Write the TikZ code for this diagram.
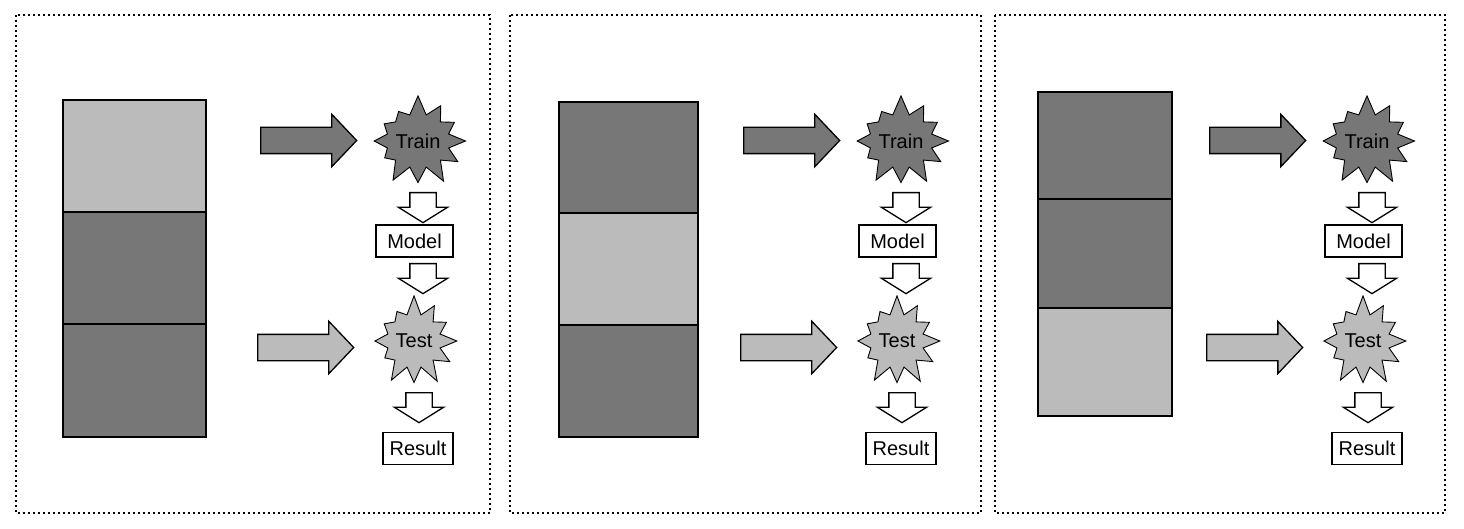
\documentclass[tikz,border=0pt]{standalone}
\usepackage{fontspec}
\setmainfont{Liberation Sans}
\usetikzlibrary{positioning,shapes.symbols,shapes.arrows}
\definecolor{dark}{HTML}{777777}
\definecolor{light}{HTML}{BBBBBB}
\begin{document}
\begin{tikzpicture}[x=1pt, y=-1pt,
  font=\fontsize{20pt}{23pt}\selectfont,
  panel/.style = {draw, dash pattern=on 2pt off 3pt, line width=1.6pt},
  block/.style = {draw, line width=2pt},
  burst/.style = {draw, starburst, starburst points=12, starburst point height=20pt,
                  random starburst=7, inner sep=0pt, minimum width=94pt, minimum height=94pt, line width=0.9pt},
  feed/.style = {draw, single arrow, anchor=tail, single arrow head extend=13pt, single arrow tip angle=93,
                 minimum height=96pt, inner xsep=0pt, inner ysep=12.5pt, line width=1.3pt},
  hollow/.style = {draw, fill=white, single arrow, anchor=tail, shape border rotate=270, single arrow head extend=11.5pt,
                   single arrow tip angle=116, minimum height=30pt, inner xsep=12.5pt, inner ysep=0pt, line width=1.3pt},
  box/.style = {draw, fill=white, line width=1.5pt, inner sep=0pt, minimum height=32pt}]
\useasboundingbox (0,0) rectangle (1464,529);

% panel 1
\draw[panel] (16,15) rectangle (490,513);
\draw[block, fill=light] (63,100) rectangle (206,212);
\draw[block, fill=dark] (63,212) rectangle (206,324);
\draw[block, fill=dark] (63,324) rectangle (206,437);
\node[feed, fill=dark] (tr1) at (260,140.5) {};
\node[feed, fill=light] (te1) at (257,347.5) {};
\node[burst, fill=dark] (train1) at (418,141) {Train};
\node[hollow] (tm1) at (423,192) {};
\node[box, minimum width=77pt] (model1) at (414.5,241) {Model};
\node[hollow] (ms1) at (423,263) {};
\node[burst, fill=light] (test1) at (414,341) {Test};
\node[hollow] (sr1) at (419,392) {};
\node[box, minimum width=70pt] (result1) at (418,448.5) {Result};

% panel 2
\draw[panel] (510,15) rectangle (981,513);
\draw[block, fill=dark] (559,102) rectangle (698,213);
\draw[block, fill=light] (559,213) rectangle (698,325);
\draw[block, fill=dark] (559,325) rectangle (698,437);
\node[feed, fill=dark] (tr2) at (743,140.5) {};
\node[feed, fill=light] (te2) at (740,347.5) {};
\node[burst, fill=dark] (train2) at (901,141) {Train};
\node[hollow] (tm2) at (906,192) {};
\node[box, minimum width=77pt] (model2) at (897.5,241) {Model};
\node[hollow] (ms2) at (906,263) {};
\node[burst, fill=light] (test2) at (897,341) {Test};
\node[hollow] (sr2) at (902,392) {};
\node[box, minimum width=70pt] (result2) at (901,448.5) {Result};

% panel 3
\draw[panel] (995,15) rectangle (1445,513);
\draw[block, fill=dark] (1038,92) rectangle (1172,199);
\draw[block, fill=dark] (1038,199) rectangle (1172,308);
\draw[block, fill=light] (1038,308) rectangle (1172,416);
\node[feed, fill=dark] (tr3) at (1209,140.5) {};
\node[feed, fill=light] (te3) at (1206,347.5) {};
\node[burst, fill=dark] (train3) at (1367,141) {Train};
\node[hollow] (tm3) at (1372,192) {};
\node[box, minimum width=77pt] (model3) at (1363.5,241) {Model};
\node[hollow] (ms3) at (1372,263) {};
\node[burst, fill=light] (test3) at (1363,341) {Test};
\node[hollow] (sr3) at (1368,392) {};
\node[box, minimum width=70pt] (result3) at (1367,448.5) {Result};
\end{tikzpicture}
\end{document}
